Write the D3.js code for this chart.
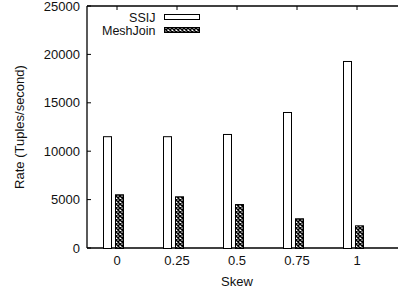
<!DOCTYPE html>
<html>
<head>
<meta charset="utf-8">
<script src="https://cdn.jsdelivr.net/npm/d3@7"></script>
<style>
  body { margin: 0; background: #fff; }
  text { font-family: "Liberation Sans", Arial, sans-serif; font-size: 13px; fill: #111; }
  .legend text { font-size: 12.5px; }
</style>
</head>
<body>
<div id="chart"></div>
<script>
const skews = ["0", "0.25", "0.5", "0.75", "1"]
const ssij = [11550, 11550, 11780, 14050, 19320]
const meshJoin = [5550, 5340, 4540, 3070, 2340]
const yTicks = [0, 5000, 10000, 15000, 20000, 25000]
const seriesNames = ["SSIJ", "MeshJoin"]

const width = 398
const height = 293
const margin = { top: 6, right: 11, bottom: 45, left: 87 }

const svg = d3.select("#chart")
  .append("svg")
  .attr("width", width)
  .attr("height", height)

// crosshatch fill for the MeshJoin bars
const pat = svg.append("defs").append("pattern")
  .attr("id", "hatch")
  .attr("patternUnits", "userSpaceOnUse")
  .attr("width", 4)
  .attr("height", 4)
pat.append("rect").attr("width", 4).attr("height", 4).attr("fill", "#fff")
pat.append("path")
  .attr("d", "M0,0 L4,4 M4,0 L0,4")
  .attr("stroke", "#000")
  .attr("stroke-width", 1.5)

const x = d3.scaleBand()
  .domain(skews)
  .range([margin.left, width - margin.right])

const y = d3.scaleLinear()
  .domain([0, 25000])
  .range([height - margin.bottom, margin.top])

const xc = d => x(d) + x.bandwidth() / 2
const barW = 8

// frame: left, top, bottom (runs off the right edge)
const g = svg.append("g")
g.append("line")
  .attr("x1", margin.left).attr("x2", width)
  .attr("y1", y(0)).attr("y2", y(0))
  .attr("stroke", "#000").attr("stroke-width", 1.3)
g.append("line")
  .attr("x1", margin.left).attr("x2", width)
  .attr("y1", y(25000)).attr("y2", y(25000))
  .attr("stroke", "#000").attr("stroke-width", 1.3)
g.append("line")
  .attr("x1", margin.left).attr("x2", margin.left)
  .attr("y1", y(0)).attr("y2", y(25000))
  .attr("stroke", "#000").attr("stroke-width", 1.3)

// y ticks, pointing inward
g.selectAll(".ytick")
  .data(yTicks)
  .join("line")
  .attr("x1", margin.left).attr("x2", margin.left + 4)
  .attr("y1", d => y(d)).attr("y2", d => y(d))
  .attr("stroke", "#000")
g.selectAll(".ylab")
  .data(yTicks)
  .join("text")
  .attr("x", margin.left - 7)
  .attr("y", d => y(d) + 4.5)
  .attr("text-anchor", "end")
  .text(d => d)

// mirrored ticks on top
g.selectAll(".ttick")
  .data(skews)
  .join("line")
  .attr("x1", d => xc(d)).attr("x2", d => xc(d))
  .attr("y1", y(25000)).attr("y2", y(25000) + 4)
  .attr("stroke", "#000")

g.selectAll(".xlab")
  .data(skews)
  .join("text")
  .attr("x", d => xc(d))
  .attr("y", y(0) + 17)
  .attr("text-anchor", "middle")
  .text(d => d)

// bars
svg.append("g").selectAll("rect")
  .data(ssij)
  .join("rect")
  .attr("x", (d, i) => xc(skews[i]) - 14 + 0.5)
  .attr("y", d => y(d) + 0.5)
  .attr("width", barW)
  .attr("height", d => y(0) - y(d))
  .attr("fill", "#fff")
  .attr("stroke", "#000")
  .attr("stroke-width", 1)

svg.append("g").selectAll("rect")
  .data(meshJoin)
  .join("rect")
  .attr("x", (d, i) => xc(skews[i]) - 2 + 0.5)
  .attr("y", d => y(d) + 0.5)
  .attr("width", barW)
  .attr("height", d => y(0) - y(d))
  .attr("fill", "url(#hatch)")
  .attr("stroke", "#000")
  .attr("stroke-width", 1)

// legend
const legend = svg.append("g").attr("class", "legend")
seriesNames.forEach((name, i) => {
  const ly = 17 + i * 13
  legend.append("text")
    .attr("x", 155.5)
    .attr("y", ly + 4.5)
    .attr("text-anchor", "end")
    .text(name)
  legend.append("rect")
    .attr("x", 164.5)
    .attr("y", ly - 2.5)
    .attr("width", 35)
    .attr("height", 5)
    .attr("fill", i === 0 ? "#fff" : "url(#hatch)")
    .attr("stroke", "#000")
})

// axis titles
svg.append("text")
  .attr("transform", `translate(24, ${(y(0) + y(25000)) / 2}) rotate(-90)`)
  .attr("text-anchor", "middle")
  .text("Rate (Tuples/second)")
svg.append("text")
  .attr("x", xc("0.5"))
  .attr("y", y(0) + 38)
  .attr("text-anchor", "middle")
  .text("Skew")
</script>
</body>
</html>
